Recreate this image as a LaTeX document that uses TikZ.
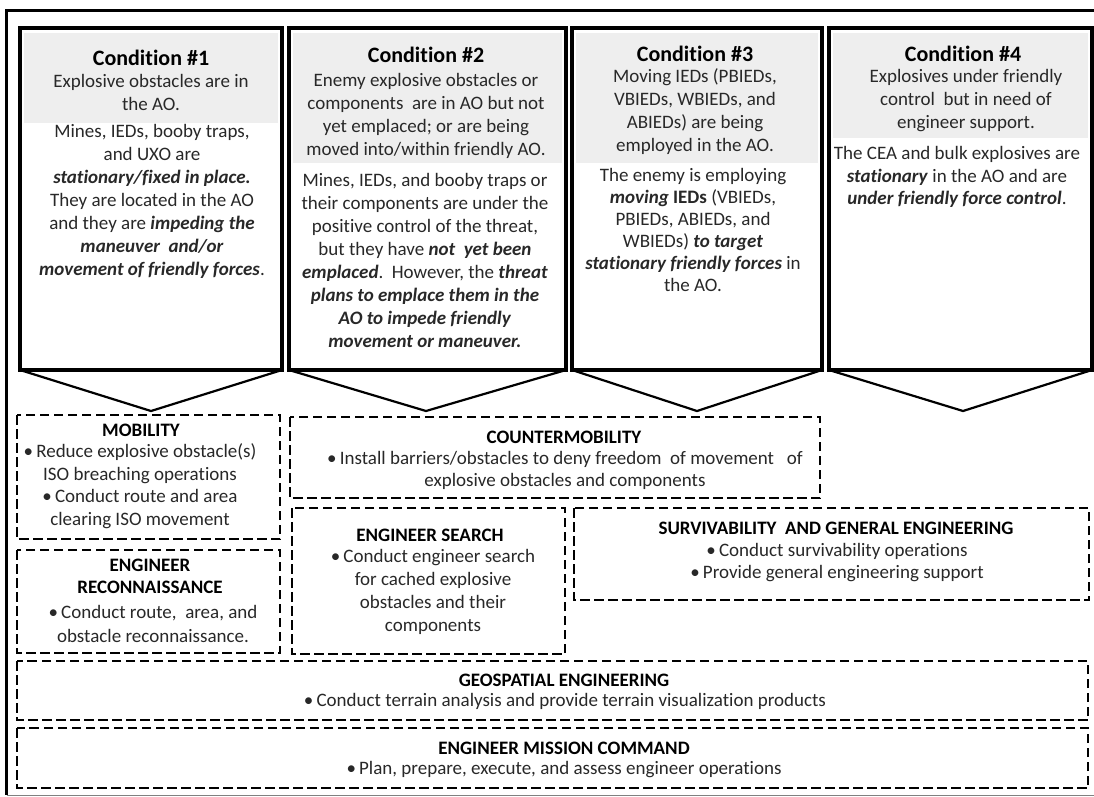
\documentclass[tikz,border=0pt]{standalone}
\usepackage{fontspec}
\setmainfont{Carlito}[Ligatures={TeX,NoCommon}]
\definecolor{hdrgray}{RGB}{238,238,238}
\definecolor{txtc}{RGB}{40,40,40}
\newcommand{\emx}[1]{\textbf{\textit{#1}}}
\begin{document}
\begin{tikzpicture}[x=1pt,y=-1pt,
  frame/.style={line width=3.5pt},
  cbox/.style={line width=3.8pt},
  chev/.style={line width=2.2pt, line join=miter},
  hdrfill/.style={fill=hdrgray, draw=none},
  dbox/.style={line width=2.7pt, dash pattern=on 9.5pt off 4.5pt},
  ttl/.style={font=\fontsize{22}{26}\selectfont\bfseries, text=black, inner sep=0, anchor=center},
  blk/.style={font=\fontsize{19}{23}\selectfont, text=txtc, align=center, inner sep=0, anchor=north},
  blkb/.style={blk, font=\fontsize{19}{22}\selectfont},
  blkc/.style={blk, font=\fontsize{19}{22.5}\selectfont},
  blkd/.style={blk, font=\fontsize{19}{24}\selectfont},
  blke/.style={blk, font=\fontsize{19}{21.5}\selectfont},
  hd/.style={font=\fontsize{19}{22}\selectfont\bfseries, text=black, inner sep=0, anchor=center},
  hdb/.style={font=\fontsize{19}{22}\selectfont\bfseries, text=black, align=center, inner sep=0, anchor=north},
]
\useasboundingbox (0,0) rectangle (1094,796);
\fill[white] (0,0) rectangle (1094,796);
% outer frame
\draw[frame] (1096,10.5) -- (6.5,10.5) -- (6.5,795);
\draw[line width=1pt, gray] (6.5,795) -- (1094,795);

% gray header areas
\fill[hdrfill] (24,33) rectangle (278,123);
\fill[hdrfill] (293,33) rectangle (562,163);
\fill[hdrfill] (576,33) rectangle (818,163);
\fill[hdrfill] (833,33) rectangle (1088,138);

% condition boxes
\draw[cbox] (20,28) rectangle (282,370);
\draw[cbox] (289,28) rectangle (566,370);
\draw[cbox] (572,28) rectangle (822,370);
\draw[cbox] (829,28) rectangle (1092,370);
% chevrons
\coordinate (t1) at (151,411);
\coordinate (t2) at (426,411);
\coordinate (t3) at (697,411);
\coordinate (t4) at (963,411);
\draw[chev] (20,370) -- (t1) -- (282,370);
\draw[chev] (289,370) -- (t2) -- (566,370);
\draw[chev] (572,370) -- (t3) -- (822,370);
\draw[chev] (829,370) -- (t4) -- (1092,370);

% condition 1
\node[ttl] (c1t) at (151,58) {Condition \#1};
\node[blk] (c1h) at (151,71.5) {\strut Explosive obstacles are in\\the AO.};
\node[blk] (c1b) at (152,121.5) {\strut Mines, IEDs, booby traps,\\and UXO are\\\emx{stationary/fixed in place.}\\They are located in the AO\\and they are \emx{impeding the}\\\emx{maneuver\ \ and/or}\\\emx{movement of friendly forces}.};

% condition 2
\node[ttl] (c2t) at (426,55) {Condition \#2};
\node[blk] (c2h) at (426,70.5) {\strut Enemy explosive obstacles or\\components\ \ are in AO but not\\yet emplaced; or are being\\moved into/within friendly AO.};
\node[blk] (c2b) at (425,170.5) {\strut Mines, IEDs, and booby traps or\\their components\ are under the\\positive control of the threat,\\but they have \emx{not\ \ yet been}\\\emx{emplaced}.\ \ However, the \emx{threat}\\\emx{plans to emplace them in the}\\\emx{AO to impede friendly}\\\emx{movement or maneuver.}};

% condition 3
\node[ttl] (c3t) at (695,54) {Condition \#3};
\node[blk] (c3h) at (695,66.5) {\strut Moving IEDs (PBIEDs,\\VBIEDs, WBIEDs, and\\ABIEDs) are being\\employed\ in the AO.};
\node[blkb] (c3b) at (693,166) {\strut The enemy is employing\\\emx{moving} \textbf{IEDs} (VBIEDs,\\PBIEDs, ABIEDs, and\\WBIEDs) \emx{to target}\\\emx{stationary friendly forces} in\\the AO.};

% condition 4
\node[ttl] (c4t) at (963,54) {Condition \#4};
\node[blk] (c4h) at (966,66.5) {\strut Explosives under friendly\\control\ \ but in need of\\engineer support.};
\node[blkc] (c4b) at (957,143.75) {\strut The CEA and bulk explosives are\\\emx{stationary} in the AO and are\\\emx{under friendly force control}.};

% dashed boxes
\draw[dbox] (17,415) rectangle (280,539);
\draw[dbox] (17,550) rectangle (280,653);
\draw[dbox] (290,417) rectangle (820,498);
\draw[dbox] (292,508) rectangle (565,654);
\draw[dbox] (574,508) rectangle (1089,600);
\draw[dbox] (17,661) rectangle (1088,720);
\draw[dbox] (17,728) rectangle (1088,788);

% mobility
\node[hd] (mobh) at (141,430) {MOBILITY};
\node[blkc] (mobb) at (140,441.75) {\strut\textbullet\,Reduce explosive obstacle(s)\\ISO breaching operations\\\textbullet\,Conduct route and area\\clearing ISO movement};

% countermobility
\node[hd] (cmh) at (564,437) {COUNTERMOBILITY};
\node[blkb] (cmb) at (565,449) {\strut\textbullet\,Install barriers/obstacles to deny freedom\ \ of movement\ \ \ of\\explosive obstacles and components};

% engineer search
\node[hd] (esh) at (430,535) {ENGINEER SEARCH};
\node[blk] (esb) at (433,546.5) {\strut\textbullet\,Conduct engineer search\\for cached explosive\\obstacles and their\\components};

% survivability
\node[hd] (svh) at (836,528) {SURVIVABILITY\ \ AND GENERAL ENGINEERING};
\node[blke] (svb) at (837,541.25) {\strut\textbullet\,Conduct\ survivability operations\\\textbullet\,Provide\ general engineering support};

% recon
\node[hdb] (rch) at (150,556) {\strut ENGINEER\\RECONNAISSANCE};
\node[blkd] (rcb) at (153,601) {\strut\textbullet\,Conduct route,\ \ area, and\\obstacle reconnaissance.};

% geospatial
\node[hd] (geh) at (564,680) {GEOSPATIAL ENGINEERING};
\node[blk] (geb) at (565,690.5) {\strut\textbullet\,Conduct\ terrain analysis and provide terrain visualization products};

% mission command
\node[hd] (mch) at (564,748) {ENGINEER MISSION COMMAND};
\node[blk] (mcb) at (564,758.5) {\strut\textbullet\,Plan, prepare, execute, and assess engineer operations};
\end{tikzpicture}
\end{document}
